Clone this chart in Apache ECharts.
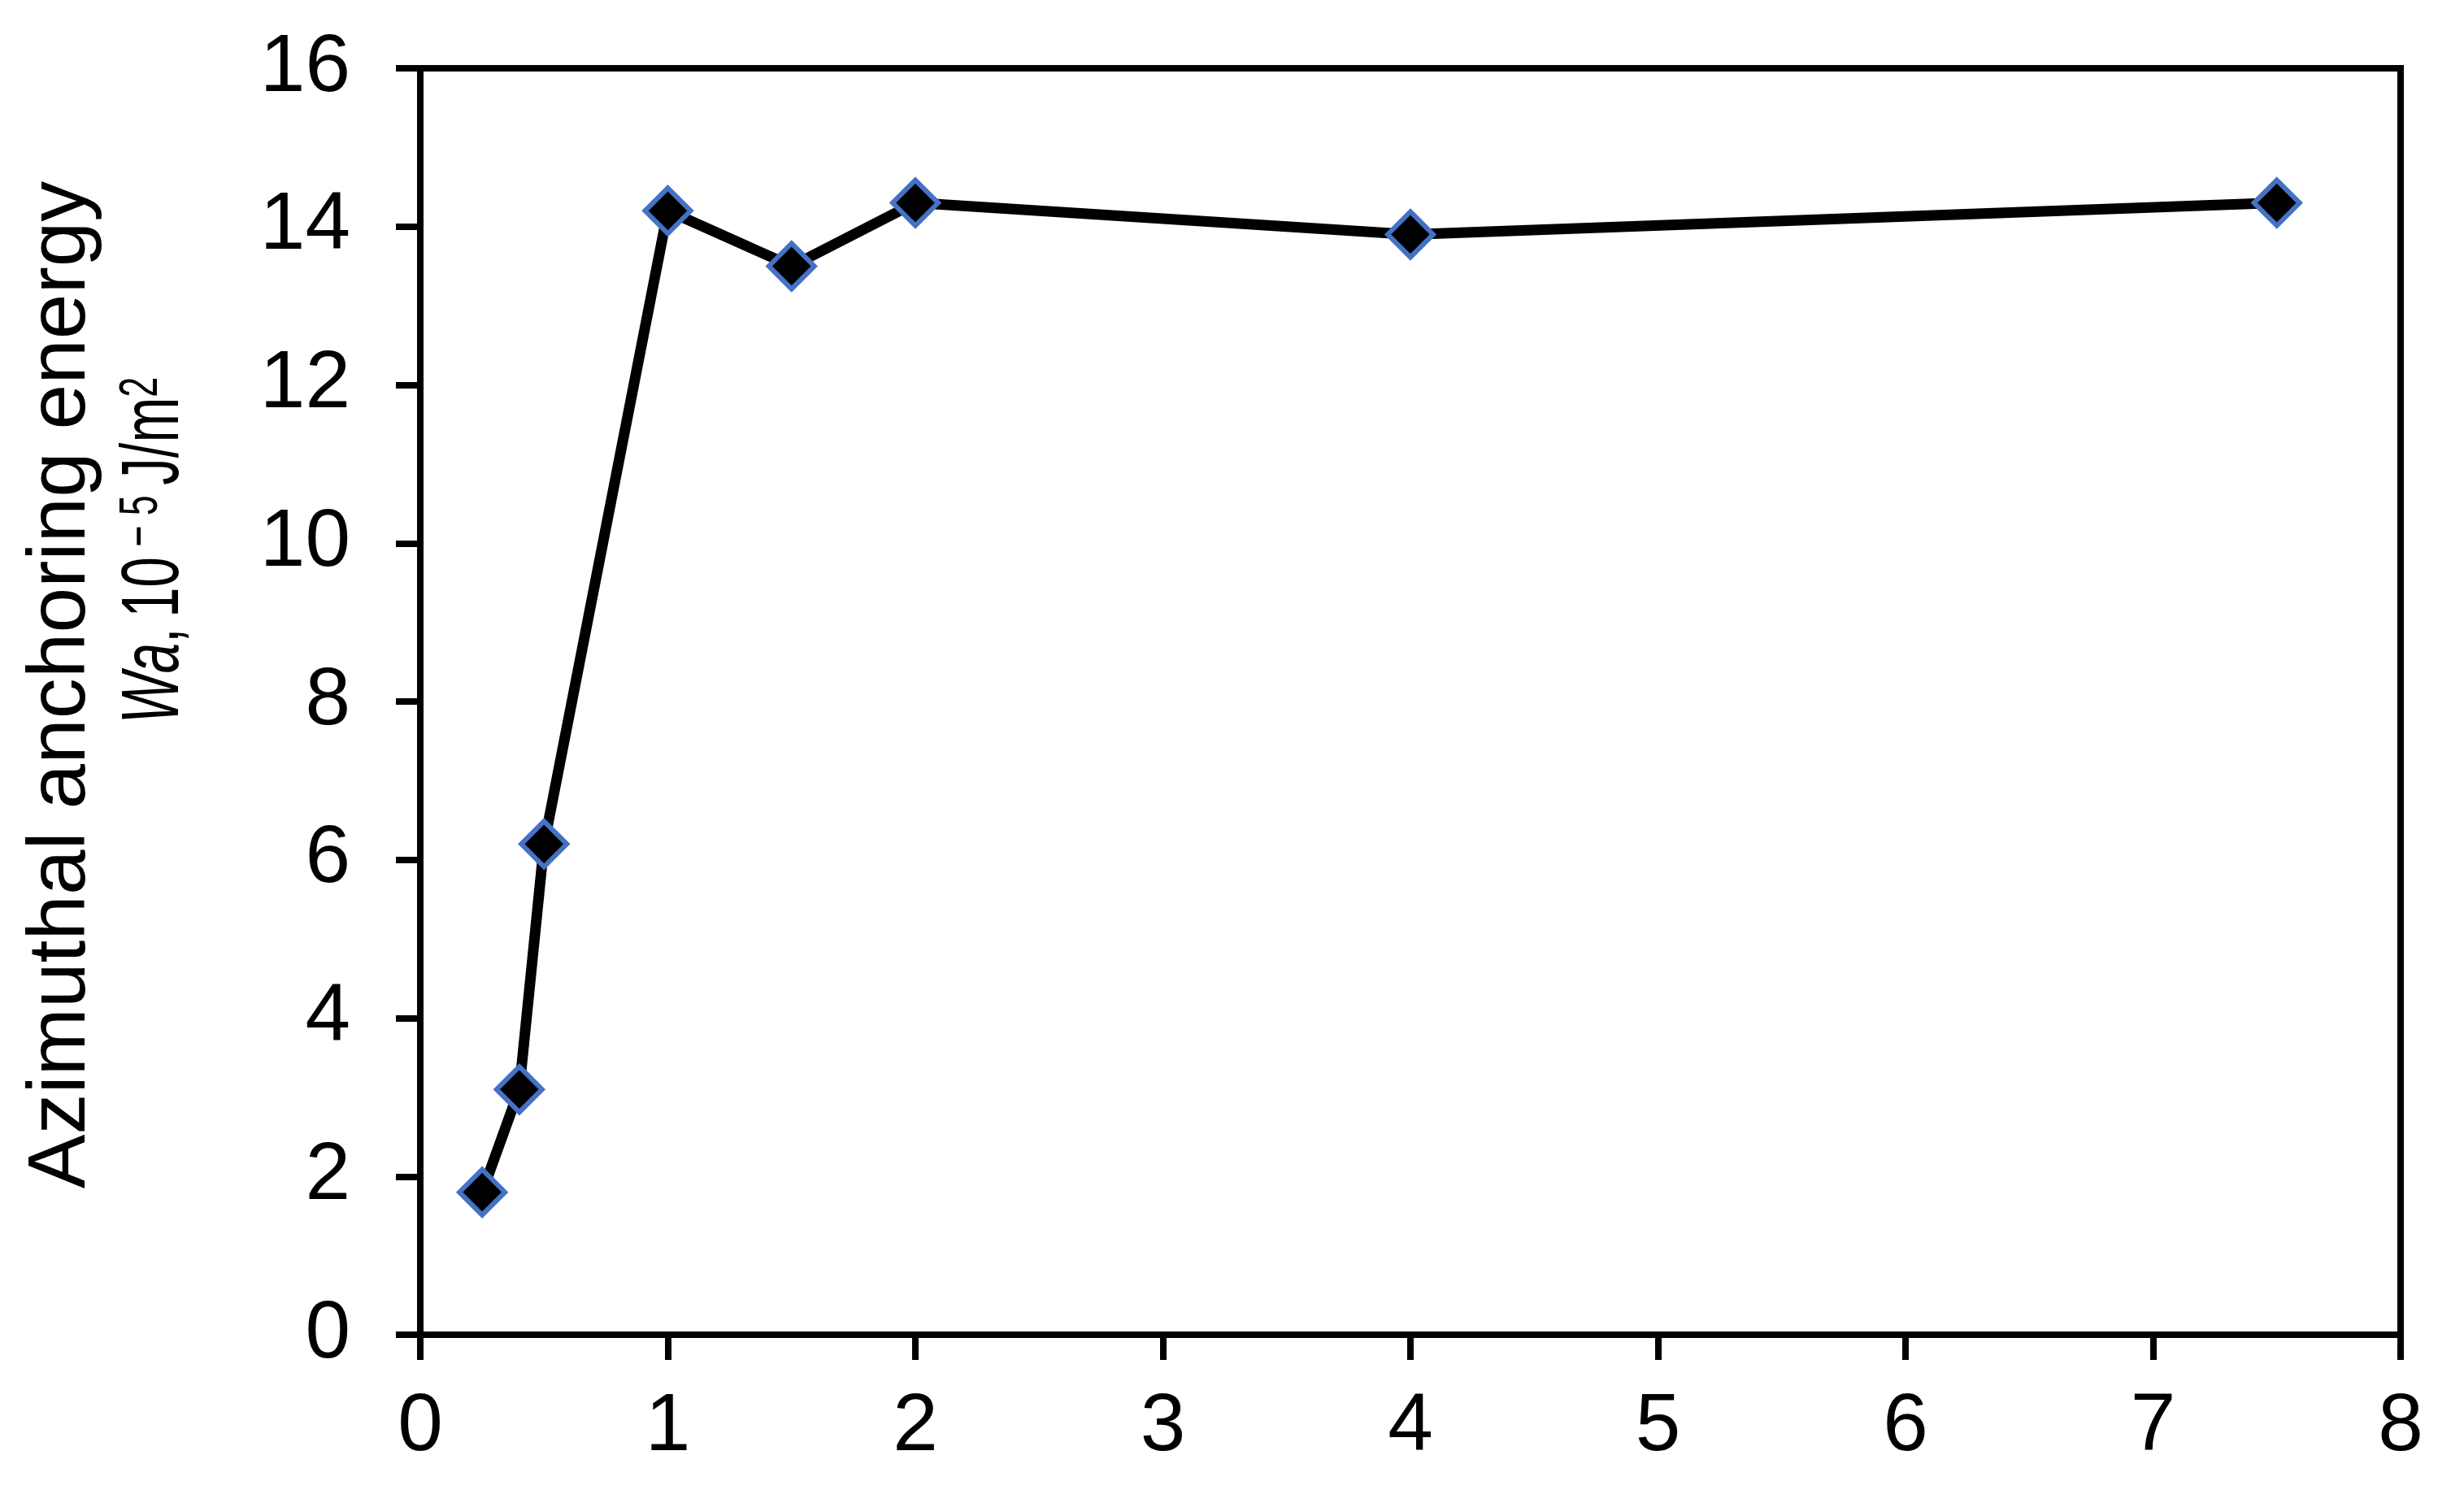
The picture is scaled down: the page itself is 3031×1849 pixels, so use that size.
<!DOCTYPE html>
<html>
<head>
<meta charset="utf-8">
<script src="https://cdn.jsdelivr.net/npm/echarts@6/dist/echarts.min.js"></script>
<style>
  html, body { margin: 0; padding: 0; background: #fff; }
  #chart { width: 3031px; height: 1849px; }
</style>
</head>
<body>
<div id="chart"></div>
<script>
// ---- data ----
const xValues = [0.25, 0.4, 0.5, 1, 1.5, 2, 4, 7.5];
const yValues = [1.8, 3.1, 6.2, 14.2, 13.5, 14.3, 13.9, 14.3];
const xRange = [0, 8, 1];   // min, max, interval
const yRange = [0, 16, 2];  // min, max, interval
const yTitleLine1 = 'Azimuthal anchoring energy';
const yTitleLine2 = '{i|Wa},{c| }10{s| \u2212 5 }J/m{s|2}';

const FONT = '"Liberation Sans", Arial, sans-serif';
const points = xValues.map((x, i) => [x, yValues[i]]);

const chart = echarts.init(document.getElementById('chart'), null, { renderer: 'canvas' });
chart.setOption({
  animation: false,
  backgroundColor: '#ffffff',
  grid: {
    left: 517, right: 78, top: 84, bottom: 207,
    show: true, borderColor: '#000', borderWidth: 8, backgroundColor: 'transparent'
  },
  xAxis: {
    type: 'value', min: xRange[0], max: xRange[1], interval: xRange[2],
    axisLine: { show: true, onZero: false, lineStyle: { color: '#000', width: 8 } },
    axisTick: { show: true, inside: false, length: 31, lineStyle: { color: '#000', width: 8 } },
    axisLabel: { color: '#000', fontSize: 100, fontFamily: FONT, margin: 64 },
    splitLine: { show: false }
  },
  yAxis: {
    type: 'value', min: yRange[0], max: yRange[1], interval: yRange[2],
    axisLine: { show: true, onZero: false, lineStyle: { color: '#000', width: 8 } },
    axisTick: { show: true, inside: false, length: 30, lineStyle: { color: '#000', width: 8 } },
    axisLabel: { color: '#000', fontSize: 100, fontFamily: FONT, margin: 86, padding: [0, 0, 8, 0] },
    splitLine: { show: false }
  },
  series: [{
    type: 'line',
    data: points,
    lineStyle: { color: '#000', width: 13 },
    symbol: 'diamond',
    symbolSize: 56,
    itemStyle: { color: '#000', borderColor: '#4472C4', borderWidth: 6 },
    z: 3
  }],
  graphic: [
    {
      type: 'text', x: 76, y: 842.5, rotation: Math.PI / 2,
      style: {
        text: yTitleLine1, fontSize: 100, fontFamily: FONT, fill: '#000',
        align: 'center', verticalAlign: 'middle'
      }
    },
    {
      type: 'text', x: 191, y: 677, rotation: Math.PI / 2, scaleX: 0.67,
      style: {
        text: yTitleLine2, fontSize: 100, fontFamily: FONT, fill: '#000', lineHeight: 100,
        align: 'center', verticalAlign: 'middle',
        rich: {
          i: { fontStyle: 'italic', fontSize: 100, fontFamily: FONT, fill: '#000', lineHeight: 100 },
          c: { fontSize: 67, fontFamily: FONT, fill: '#000', lineHeight: 67 },
          s: { fontSize: 67, fontFamily: FONT, fill: '#000', lineHeight: 67, verticalAlign: 'top' }
        }
      }
    }
  ]
});
</script>
</body>
</html>
